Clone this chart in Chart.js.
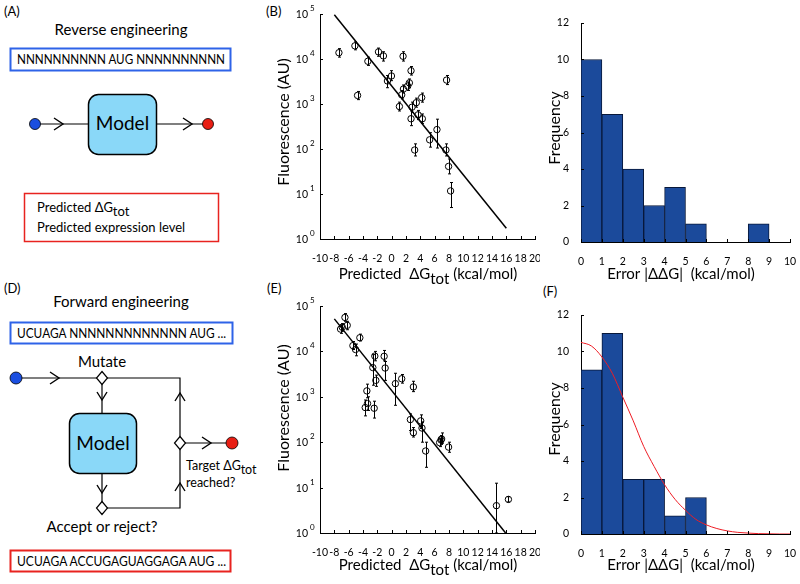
<!DOCTYPE html>
<html>
<head>
<meta charset="utf-8">
<script src="https://cdn.jsdelivr.net/npm/chart.js@4.4.0/dist/chart.umd.min.js"></script>
<style>
  body { margin: 0; background: #fff; width: 800px; height: 584px; position: relative; overflow: hidden; }
  canvas, svg { position: absolute; }
</style>
</head>
<body>
<svg width="800" height="584" viewBox="0 0 800 584" style="left:0;top:0" font-family="Lato, 'Open Sans', sans-serif">
  <defs>
    <path id="chevR" d="M-9,-6 L0,0 L-9,6" fill="none" stroke="#000" stroke-width="1.4"/>
    <path id="chevD" d="M-5,-8 L0,0 L5,-8" fill="none" stroke="#000" stroke-width="1.4"/>
    <path id="chevU" d="M-5,8 L0,0 L5,8" fill="none" stroke="#000" stroke-width="1.4"/>
  </defs>
  <!-- panel letters -->
  <text x="4" y="16" font-size="13">(A)</text>
  <text x="266" y="16" font-size="13">(B)</text>
  <text x="4" y="293" font-size="13">(D)</text>
  <text x="267" y="293" font-size="13">(E)</text>
  <text x="543" y="296" font-size="13">(F)</text>

  <!-- (A) reverse engineering -->
  <text x="121" y="35" font-size="15" text-anchor="middle">Reverse engineering</text>
  <rect x="10.5" y="48.5" width="220" height="22" fill="none" stroke="#2e63e8" stroke-width="2"/>
  <text x="17" y="64" font-size="12.5" textLength="208" lengthAdjust="spacingAndGlyphs">NNNNNNNNNN AUG NNNNNNNNNN</text>
  <line x1="35" y1="124" x2="88" y2="124" stroke="#000" stroke-width="1.2"/>
  <line x1="157" y1="124" x2="208" y2="124" stroke="#000" stroke-width="1.2"/>
  <use href="#chevR" x="63" y="124"/>
  <use href="#chevR" x="192" y="124"/>
  <circle cx="35" cy="124" r="5.5" fill="#1a4ee0" stroke="#000" stroke-width="0.8"/>
  <circle cx="208" cy="124" r="5.5" fill="#e81e14" stroke="#000" stroke-width="0.8"/>
  <rect x="88.5" y="94.5" width="68" height="60" rx="10" fill="#8ad8f8" stroke="#000" stroke-width="1.5"/>
  <text x="122.5" y="130" font-size="19" text-anchor="middle">Model</text>
  <rect x="24.5" y="193.5" width="194" height="48" fill="none" stroke="#e8231f" stroke-width="1.5"/>
  <text x="37" y="212" font-size="13">Predicted  ΔG<tspan dy="4">tot</tspan></text>
  <text x="37" y="232" font-size="13">Predicted expression level</text>

  <!-- (D) forward engineering -->
  <text x="121" y="307" font-size="15" text-anchor="middle">Forward engineering</text>
  <rect x="10.5" y="322.5" width="222" height="21" fill="none" stroke="#2e63e8" stroke-width="2"/>
  <text x="17" y="338" font-size="12.5" textLength="209" lengthAdjust="spacingAndGlyphs">UCUAGA NNNNNNNNNNNNN AUG ...</text>
  <text x="102" y="367" font-size="15" text-anchor="middle">Mutate</text>
  <polyline points="16,378 180,378 180,508 102,508" fill="none" stroke="#000" stroke-width="1.2"/>
  <line x1="102" y1="378" x2="102" y2="508" stroke="#000" stroke-width="1.2"/>
  <line x1="180" y1="443" x2="232" y2="443" stroke="#000" stroke-width="1.2"/>
  <use href="#chevR" x="59" y="378"/>
  <use href="#chevD" x="102" y="400"/>
  <use href="#chevD" x="102" y="493"/>
  <use href="#chevU" x="180" y="393"/>
  <use href="#chevU" x="180" y="483"/>
  <use href="#chevR" x="211" y="443"/>
  <circle cx="16" cy="378" r="6" fill="#1a4ee0" stroke="#000" stroke-width="0.8"/>
  <circle cx="232" cy="443" r="6" fill="#e81e14" stroke="#000" stroke-width="0.8"/>
  <polygon points="102,371.5 107.5,378 102,384.5 96.5,378" fill="#fff" stroke="#000" stroke-width="1.2"/>
  <polygon points="102,501.5 107.5,508 102,514.5 96.5,508" fill="#fff" stroke="#000" stroke-width="1.2"/>
  <polygon points="180,436.5 185.5,443 180,449.5 174.5,443" fill="#fff" stroke="#000" stroke-width="1.2"/>
  <rect x="69.5" y="413.5" width="67" height="60" rx="10" fill="#8ad8f8" stroke="#000" stroke-width="1.5"/>
  <text x="103" y="450" font-size="19" text-anchor="middle">Model</text>
  <text x="186" y="470" font-size="12.5">Target ΔG<tspan dy="4">tot</tspan></text>
  <text x="186" y="487" font-size="12.5">reached?</text>
  <text x="102" y="532" font-size="15" text-anchor="middle">Accept or reject?</text>
  <rect x="10.5" y="550.5" width="220" height="21" fill="none" stroke="#e8231f" stroke-width="2"/>
  <text x="17" y="566" font-size="12.5" textLength="209" lengthAdjust="spacingAndGlyphs">UCUAGA ACCUGAGUAGGAGA AUG ...</text>
</svg>

<canvas id="chartB" width="300" height="290" style="left:240px;top:0"></canvas>
<canvas id="chartC" width="260" height="290" style="left:540px;top:0"></canvas>
<canvas id="chartE" width="300" height="294" style="left:240px;top:290px"></canvas>
<canvas id="chartF" width="260" height="294" style="left:540px;top:290px"></canvas>

<script>
const FONT = "Lato, 'Open Sans', sans-serif";

// (B) reverse engineering: predicted dG vs measured fluorescence
const dgB = [-7.36, -5.13, -4.76, -3.32, -1.84, -1.15, -0.59, -0.03, 1.59, 1.08, 1.40, 1.64, 2.24, 2.47,
  2.70, 2.84, 2.70, 3.21, 3.44, 3.68, 4.19, 4.28, 5.30, 6.32, 7.66, 7.57, 7.94, 8.22];
const fluB = [13800, 19600, 1550, 8900, 14400, 11700, 3250, 4200, 11500, 880, 1600, 2150, 2500, 2950,
  5500, 850, 470, 95, 1070, 575, 1390, 470, 160, 270, 3400, 95, 41, 11.7];
const fluB_lo = [11000, 16000, 1250, 7200, 11500, 9000, 2300, 3300, 9000, 700, 1300, 1750, 2000, 2350,
  4400, 650, 330, 70, 850, 450, 1100, 370, 110, 105, 2700, 70, 28, 5];
const fluB_hi = [17000, 24000, 1900, 11000, 17500, 14500, 4300, 5500, 14500, 1100, 2000, 2650, 3100, 3600,
  6800, 1100, 700, 130, 1350, 720, 1750, 600, 230, 460, 4300, 130, 60, 18];
const fitB_x = [-8, 16];
const fitB_y = [96000, 1.73];

// (E) forward engineering
const dgE = [-7.13, -6.89, -6.52, -6.20, -5.41, -5.04, -4.44, -2.63, -2.35, -2.21, -3.46, -3.37, -3.69, -2.44,
  -1.05, -0.91, 0.52, 1.40, 3.03, 2.61, 3.03, 4.05, 4.23, 4.74, 6.69, 6.88, 6.97, 7.94, 14.62, 16.29];
const fluE = [31000, 34000, 56000, 37500, 13400, 11000, 20000, 4400, 7900, 2300, 1350, 710, 580, 560,
  7800, 4300, 1950, 2500, 1650, 315, 162, 295, 205, 64, 98, 112, 118, 78, 4.0, 5.5];
const fluE_lo = [25000, 28000, 46000, 30000, 11000, 8000, 17000, 1800, 6200, 1700, 950, 500, 380, 340,
  6200, 2300, 650, 2000, 1300, 180, 130, 200, 100, 28, 80, 90, 95, 60, 1.0, 4.8];
const fluE_hi = [38000, 41000, 68000, 46000, 16500, 14500, 24000, 8500, 10000, 3000, 1900, 1000, 850, 800,
  10500, 6000, 3300, 3100, 2200, 420, 210, 400, 280, 100, 120, 140, 160, 100, 12.5, 6.3];
const fitE_x = [-8, 15.9];
const fitE_y = [52000, 1];

// shared axes
const dgTicks = [-10, -8, -6, -4, -2, 0, 2, 4, 6, 8, 10, 12, 14, 16, 18, 20];
const logTicks = [1, 10, 100, 1000, 10000, 100000];
const logExps = ["0", "1", "2", "3", "4", "5"];

// (C), (F) error histograms, bins of 1 kcal/mol
const binCenters = [0.5, 1.5, 2.5, 3.5, 4.5, 5.5, 6.5, 7.5, 8.5, 9.5];
const countsC = [10, 7, 4, 2, 3, 1, 0, 0, 1, 0];
const countsF = [9, 11, 3, 3, 1, 2, 0, 0, 0, 0];
const errTicks = [0, 1, 2, 3, 4, 5, 6, 7, 8, 9, 10];
const freqTicks = [0, 2, 4, 6, 8, 10, 12];
// red fitted curve in (F)
const curveF_x = [0, 0.5, 1, 1.5, 2, 2.5, 3, 3.5, 4, 4.5, 5, 5.5, 6, 6.5, 7, 7.5, 8, 8.5, 9, 9.5, 10];
const curveF_y = [10.5, 10.3, 9.7, 8.8, 7.5, 6.2, 4.8, 3.7, 2.7, 1.9, 1.3, 0.8, 0.5, 0.3, 0.17, 0.09, 0.05, 0.02, 0.01, 0, 0];

Chart.defaults.font.family = FONT;
Chart.defaults.color = "#000";
Chart.defaults.animation = false;

const pts = (xs, ys) => xs.map((x, i) => ({ x, y: ys[i] }));

const errorBars = {
  id: "errorBars",
  afterDatasetsDraw(chart) {
    const { ctx, scales: { x, y } } = chart;
    chart.data.datasets.forEach((ds) => {
      if (!ds.errLo) return;
      ctx.save();
      ctx.strokeStyle = "#000";
      ctx.lineWidth = 1;
      ds.data.forEach((p, i) => {
        const px = Math.round(x.getPixelForValue(p.x)) + 0.5;
        const y1 = y.getPixelForValue(ds.errLo[i]);
        const y2 = y.getPixelForValue(ds.errHi[i]);
        ctx.beginPath();
        ctx.moveTo(px, y1); ctx.lineTo(px, y2);
        ctx.moveTo(px - 1.5, y1); ctx.lineTo(px + 1.5, y1);
        ctx.moveTo(px - 1.5, y2); ctx.lineTo(px + 1.5, y2);
        ctx.stroke();
      });
      ctx.restore();
    });
  },
};

// matlab style ticks pointing into the plot, plus 10^n labels on log axes
const inTicks = {
  id: "inTicks",
  afterDraw(chart) {
    const { ctx, chartArea: a } = chart;
    ctx.save();
    ctx.strokeStyle = "#000";
    ctx.lineWidth = 1;
    for (const s of Object.values(chart.scales)) {
      s.ticks.forEach((t, i) => {
        const p = Math.round(s.getPixelForValue(t.value)) + 0.5;
        ctx.beginPath();
        if (s.isHorizontal()) {
          ctx.moveTo(p, a.bottom); ctx.lineTo(p, a.bottom - 3);
        } else {
          ctx.moveTo(a.left, p); ctx.lineTo(a.left + 3, p);
        }
        ctx.stroke();
        if (s.type === "logarithmic") {
          ctx.fillStyle = "#000";
          ctx.font = "10.5px " + FONT;
          ctx.textAlign = "right";
          ctx.textBaseline = "middle";
          ctx.fillText("10", a.left - 12, p);
          ctx.font = "8px " + FONT;
          ctx.textAlign = "left";
          ctx.fillText(logExps[i], a.left - 10, p - 6);
        }
      });
    }
    ctx.restore();
  },
};

function drawRich(ctx, it) {
  ctx.save();
  ctx.translate(it.x, it.y);
  if (it.rot) ctx.rotate(it.rot);
  ctx.fillStyle = "#000";
  ctx.textAlign = "left";
  ctx.textBaseline = "alphabetic";
  let w = 0;
  it.parts.forEach((p) => {
    ctx.font = (p.size || it.size) + "px " + FONT;
    w += ctx.measureText(p.t).width;
  });
  let cx = -w / 2;
  it.parts.forEach((p) => {
    ctx.font = (p.size || it.size) + "px " + FONT;
    ctx.fillText(p.t, cx, p.dy || 0);
    cx += ctx.measureText(p.t).width;
  });
  ctx.restore();
}

const axisTitles = {
  id: "axisTitles",
  afterDraw(chart, args, opts) {
    (opts.items || []).forEach((it) => drawRich(chart.ctx, it));
  },
};

function fixBox(w, h) {
  return {
    y: (s) => { s.width = w; s.paddingTop = 0; s.paddingBottom = 0; },
    x: (s) => { s.height = h; s.paddingLeft = 0; s.paddingRight = 0; },
  };
}

function scatterChart(id, xs, ys, lo, hi, fx, fy, box, titles) {
  const fit = fixBox(box.yw, box.xh);
  return new Chart(document.getElementById(id), {
    type: "scatter",
    data: {
      datasets: [
        {
          data: pts(fx, fy),
          showLine: true,
          borderColor: "#000",
          borderWidth: 1.5,
          pointRadius: 0,
        },
        {
          data: pts(xs, ys),
          errLo: lo,
          errHi: hi,
          pointStyle: "circle",
          pointRadius: 3.2,
          borderColor: "#000",
          borderWidth: 1,
          backgroundColor: "rgba(0,0,0,0)",
        },
      ],
    },
    options: {
      responsive: false,
      events: [],
      layout: { padding: { left: 0, top: box.top, right: box.right, bottom: 0 } },
      scales: {
        x: {
          type: "linear",
          min: -10,
          max: 20,
          afterBuildTicks: (s) => { s.ticks = dgTicks.map((v) => ({ value: v })); },
          afterFit: fit.x,
          grid: { display: false },
          border: { display: true, color: "#000", width: 1 },
          ticks: { autoSkip: false, maxRotation: 0, padding: 5, font: { size: 10.5 } },
        },
        y: {
          type: "logarithmic",
          min: 1,
          max: 100000,
          afterBuildTicks: (s) => { s.ticks = logTicks.map((v) => ({ value: v })); },
          afterFit: fit.y,
          grid: { display: false },
          border: { display: true, color: "#000", width: 1 },
          ticks: { display: false },
        },
      },
      plugins: {
        legend: { display: false },
        tooltip: { enabled: false },
        axisTitles: { items: titles },
      },
    },
    plugins: [errorBars, inTicks, axisTitles],
  });
}

function histChart(id, counts, box, titles, extra) {
  const fit = fixBox(box.yw, box.xh);
  const datasets = [
    {
      type: "bar",
      data: pts(binCenters, counts),
      backgroundColor: "#1b4a9b",
      borderColor: "#08183a",
      borderWidth: 1,
      barPercentage: 1,
      categoryPercentage: 1,
      order: 2,
    },
  ];
  if (extra) datasets.push(extra);
  return new Chart(document.getElementById(id), {
    type: "bar",
    data: { datasets },
    options: {
      responsive: false,
      events: [],
      layout: { padding: { left: 0, top: box.top, right: box.right, bottom: 0 } },
      scales: {
        x: {
          type: "linear",
          min: 0,
          max: 10,
          offset: false,
          afterBuildTicks: (s) => { s.ticks = errTicks.map((v) => ({ value: v })); },
          afterFit: fit.x,
          grid: { display: false },
          border: { display: true, color: "#000", width: 1 },
          ticks: { autoSkip: false, maxRotation: 0, padding: 5, font: { size: 10.5 } },
        },
        y: {
          min: 0,
          max: 12,
          afterBuildTicks: (s) => { s.ticks = freqTicks.map((v) => ({ value: v })); },
          afterFit: fit.y,
          grid: { display: false },
          border: { display: true, color: "#000", width: 1 },
          ticks: { padding: 4, font: { size: 10.5 } },
        },
      },
      plugins: {
        legend: { display: false },
        tooltip: { enabled: false },
        axisTitles: { items: titles },
      },
    },
    plugins: [inTicks, axisTitles],
  });
}

const dgTitle = (y) => ({
  x: 188, y, size: 15,
  parts: [{ t: "Predicted  ΔG" }, { t: "tot", dy: 5 }, { t: " (kcal/mol)" }],
});
const errTitle = (y) => ({
  x: 141, y, size: 15,
  parts: [{ t: "Error |ΔΔG|  (kcal/mol)" }],
});

scatterChart("chartB", dgB, fluB, fluB_lo, fluB_hi, fitB_x, fitB_y,
  { yw: 80, xh: 51, top: 14, right: 4 }, [
    dgTitle(279),
    { x: 49, y: 122, size: 16, rot: -Math.PI / 2, parts: [{ t: "Fluorescence (AU)" }] },
  ]);

scatterChart("chartE", dgE, fluE, fluE_lo, fluE_hi, fitE_x, fitE_y,
  { yw: 80, xh: 51, top: 16, right: 4 }, [
    dgTitle(280),
    { x: 49, y: 118, size: 16, rot: -Math.PI / 2, parts: [{ t: "Fluorescence (AU)" }] },
  ]);

histChart("chartC", countsC, { yw: 41, xh: 48, top: 23, right: 10 }, [
  errTitle(279),
  { x: 20, y: 128, size: 16, rot: -Math.PI / 2, parts: [{ t: "Frequency" }] },
]);

histChart("chartF", countsF, { yw: 41, xh: 50, top: 25, right: 10 }, [
  errTitle(280),
  { x: 20, y: 129, size: 16, rot: -Math.PI / 2, parts: [{ t: "Frequency" }] },
], {
  type: "line",
  data: pts(curveF_x, curveF_y),
  borderColor: "#ee1c24",
  borderWidth: 1,
  pointRadius: 0,
  cubicInterpolationMode: "monotone",
  order: 1,
});
</script>
</body>
</html>
